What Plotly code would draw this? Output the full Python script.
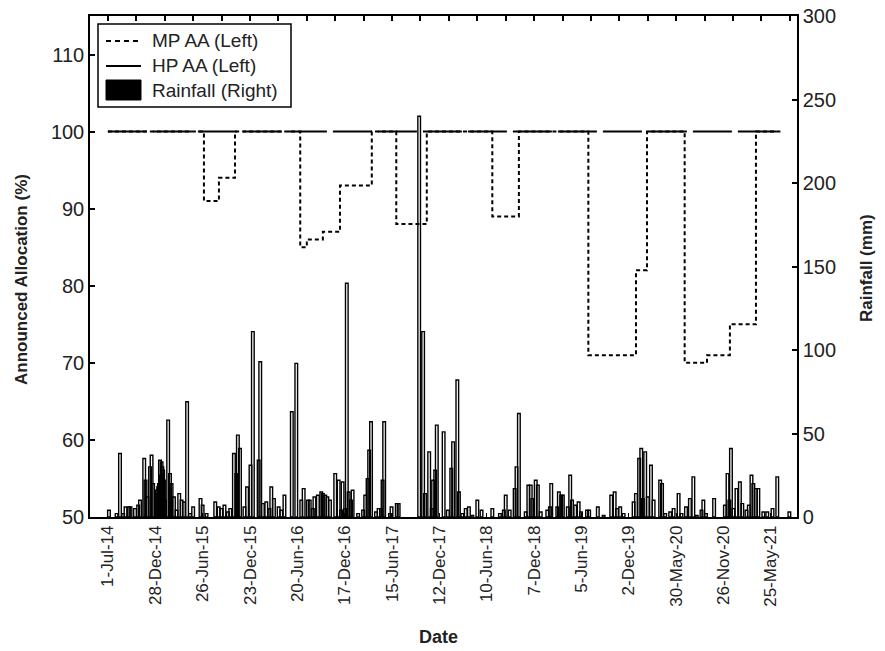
import plotly.graph_objects as go
import pandas as pd

# ---------------- data ----------------
START = "2014-07-01"

# Medium-priority announced allocation (%), step changes
mp_dates = ["2014-07-01", "2015-07-01", "2015-08-27", "2015-10-27",
            "2016-07-01", "2016-07-26", "2016-09-25", "2016-11-29", "2017-03-30",
            "2017-07-01", "2017-10-25",
            "2018-07-01", "2018-10-10",
            "2019-07-01", "2019-12-29", "2020-02-09",
            "2020-07-01", "2020-09-24", "2020-12-20", "2021-03-29",
            "2021-06-30"]
mp_alloc = [100, 91, 94, 100,
            85, 86, 87, 93, 100,
            88, 100,
            89, 100,
            71, 82, 100,
            70, 71, 75, 100,
            100]

# High-priority announced allocation (%)
hp_dates = ["2014-07-01", "2021-06-30"]
hp_alloc = [100, 100]

# Daily rainfall events: day number counted from 1-Jul-2014, and rainfall (mm)
rain_day = [4, 33, 46, 58, 67, 80, 86, 103, 115, 122, 138, 143, 150, 160, 166, 172,
            185, 188, 191, 194, 198, 201, 204, 207, 210, 213, 217, 229, 236, 242, 251,
            261, 271, 280, 289, 301, 312, 324, 352, 360, 375,
            408, 421, 431, 443, 456, 465, 479, 488, 494, 502, 519, 529, 542, 551,
            573, 579, 589, 602, 614, 621, 631, 649, 659, 671, 699, 716, 735, 744,
            760, 767, 779, 785, 798, 811, 817, 826, 834,
            844, 864, 877, 886, 892, 901, 908, 915, 924, 930, 951, 970, 978, 987,
            993, 1000, 1019, 1029, 1038, 1044, 1050, 1072, 1078, 1098, 1105,
            1183, 1198, 1205, 1221, 1231, 1236, 1244, 1250, 1276,
            1292, 1305, 1312, 1328, 1334, 1347, 1360, 1372, 1385, 1404, 1420,
            1461, 1490, 1505, 1512, 1527, 1546, 1553, 1562, 1588, 1598, 1607,
            1613, 1626, 1634, 1645, 1670, 1680, 1685, 1708, 1714, 1723,
            1729, 1748, 1757, 1764, 1776, 1789, 1798, 1821, 1829, 1862, 1884,
            1913, 1926, 1935, 1947, 1960, 1998, 2007, 2019, 2027, 2033, 2042,
            2052, 2064, 2074, 2099, 2106, 2118, 2137, 2150, 2169,
            2180, 2197, 2212, 2225, 2238, 2256, 2263, 2273, 2304, 2345, 2355,
            2362, 2368, 2377, 2389, 2402, 2411, 2427, 2436, 2446, 2453, 2463,
            2472, 2491, 2506, 2526, 2544, 2590]
rain_mm = [4, 2, 38, 2, 6, 6, 6, 5, 7, 10, 35, 22, 12, 30, 37, 20,
           16, 14, 18, 20, 34, 25, 33, 30, 28, 22, 10, 58, 26, 20, 12,
           4, 14, 10, 9, 69, 2, 6, 11, 7, 2,
           9, 6, 5, 7, 3, 5, 38, 26, 49, 41, 6, 18, 31, 111,
           34, 93, 8, 9, 5, 18, 11, 6, 4, 13, 63, 92, 10, 17,
           10, 10, 5, 12, 13, 15, 14, 13, 12,
           10, 26, 22, 4, 21, 5, 140, 15, 10, 16, 2, 4, 13, 23,
           40, 57, 3, 5, 5, 22, 57, 2, 6, 8, 8,
           240, 111, 14, 39, 5, 22, 28, 55, 51,
           4, 29, 45, 82, 15, 2, 5, 6, 1, 10, 4,
           5, 2, 4, 13, 4, 17, 30, 62, 3, 19, 19,
           11, 22, 19, 3, 4, 6, 20, 6, 15, 13,
           13, 6, 25, 10, 7, 9, 3, 4, 4, 6, 1,
           13, 15, 5, 6, 2, 9, 14, 35, 41, 11, 39,
           12, 31, 10, 22, 20, 2, 3, 5, 14,
           2, 6, 11, 24, 1, 4, 10, 2, 11, 7, 26,
           10, 41, 5, 17, 21, 8, 4, 7, 25, 20, 17,
           17, 3, 3, 5, 24, 3]

# Axis ticks
alloc_ticks = [50, 60, 70, 80, 90, 100, 110]
rain_ticks = [0, 50, 100, 150, 200, 250, 300]

# Legend labels
legend_labels = ["MP AA (Left)", "HP AA (Left)", "Rainfall (Right)"]

# ---------------- figure ----------------
rain_dates = pd.Timestamp(START) + pd.to_timedelta(rain_day, unit="D")
DAY_MS = 86400000
FONT = "Liberation Sans, Arial, sans-serif"
TXT = "#222222"

W, H = 885, 651
ML, MR, MT, MB = 90, 88, 16, 134
PW, PH = W - ML - MR, H - MT - MB


def px(xp):  # pixel -> paper x
    return (xp - ML) / PW


def py(yp):  # pixel -> paper y
    return (H - MB - yp) / PH


fig = go.Figure()

# rainfall bars (right axis = y)
fig.add_trace(go.Bar(
    x=rain_dates, y=rain_mm, yaxis="y", xaxis="x",
    width=10 * DAY_MS,
    marker=dict(color="rgba(255,255,255,0)", line=dict(color="black", width=1.4)),
    name=legend_labels[2], showlegend=False, hoverinfo="x+y"))

# allocation lines (left axis = y2)
fig.add_trace(go.Scatter(
    x=mp_dates, y=mp_alloc, xaxis="x", yaxis="y2", mode="lines", line_shape="hv",
    line=dict(color="black", width=2, dash="4px,3px"), name=legend_labels[0],
    showlegend=False))
fig.add_trace(go.Scatter(
    x=hp_dates, y=hp_alloc, xaxis="x2", yaxis="y2", mode="lines",
    line=dict(color="black", width=2, dash="39px,6px"), name=legend_labels[1],
    showlegend=False))

x_range = ["2014-04-24", "2021-09-01"]

# ----- legend box drawn as shapes + text -----
shapes = [
    dict(type="rect", xref="paper", yref="paper",
         x0=px(98), x1=px(291), y0=py(107), y1=py(24),
         line=dict(color="black", width=1.5), fillcolor="white", layer="above"),
    dict(type="line", xref="paper", yref="paper",
         x0=px(106), x1=px(141), y0=py(41), y1=py(41),
         line=dict(color="black", width=2, dash="5px,4px"), layer="above"),
    dict(type="line", xref="paper", yref="paper",
         x0=px(106), x1=px(141), y0=py(66), y1=py(66),
         line=dict(color="black", width=2), layer="above"),
    dict(type="rect", xref="paper", yref="paper",
         x0=px(106), x1=px(141), y0=py(100), y1=py(80),
         line=dict(color="black", width=1), fillcolor="black", layer="above"),
]
legend_ann = [
    dict(text=lab, xref="paper", yref="paper", x=px(150), y=py(yy),
         xanchor="left", yanchor="middle", showarrow=False,
         font=dict(size=19, family=FONT, color=TXT))
    for lab, yy in zip(legend_labels, [41, 66, 90])
]

fig.update_layout(
    width=W, height=H,
    margin=dict(l=ML, r=MR, t=MT, b=MB, autoexpand=False),
    paper_bgcolor="white", plot_bgcolor="white",
    barmode="overlay",
    font=dict(family=FONT, color=TXT),
    showlegend=False,
    xaxis=dict(
        type="date", range=x_range, automargin=False,
        tick0=START, dtick=180 * DAY_MS, tickformat="%-d-%b-%y",
        tickangle=-90, tickfont=dict(size=17, family=FONT, color=TXT),
        ticks="inside", ticklen=4, tickcolor="black",
        showline=True, linecolor="black", linewidth=1.5, mirror=True,
        showgrid=False, zeroline=False),
    xaxis2=dict(
        type="date", range=x_range, overlaying="x", side="top", automargin=False,
        tick0=START, dtick=108 * DAY_MS,
        ticks="inside", ticklen=5, tickcolor="black", tickwidth=1.5,
        showticklabels=False, showline=False, showgrid=False, zeroline=False),
    yaxis=dict(
        side="right", range=[0, 300], tickvals=rain_ticks, automargin=False,
        ticks="inside", ticklen=5, tickwidth=1.5, tickcolor="black",
        tickfont=dict(size=20, family=FONT, color=TXT),
        showline=True, linecolor="black", linewidth=1.5,
        showgrid=False, zeroline=False),
    yaxis2=dict(
        side="left", overlaying="y", range=[50, 115], tickvals=alloc_ticks,
        automargin=False,
        ticks="inside", ticklen=5, tickwidth=1.5, tickcolor="black",
        tickfont=dict(size=20, family=FONT, color=TXT),
        showline=True, linecolor="black", linewidth=1.5,
        showgrid=False, zeroline=False),
    shapes=shapes,
    annotations=[
        dict(text="Announced Allocation (%)", xref="paper", yref="paper",
             x=px(22), y=py(280), xanchor="center", yanchor="middle",
             textangle=-90, showarrow=False,
             font=dict(size=17, family=FONT, color=TXT, weight="bold")),
        dict(text="Rainfall (mm)", xref="paper", yref="paper",
             x=px(866), y=py(268), xanchor="center", yanchor="middle",
             textangle=-90, showarrow=False,
             font=dict(size=17, family=FONT, color=TXT, weight="bold")),
        dict(text="Date", xref="paper", yref="paper",
             x=px(438), y=py(637), xanchor="center", yanchor="middle",
             showarrow=False,
             font=dict(size=18, family=FONT, color=TXT, weight="bold")),
    ] + legend_ann,
)

fig.write_html("out.html", config={"displayModeBar": False},
               post_script="document.body.style.margin='0';document.body.style.overflow='hidden';")
